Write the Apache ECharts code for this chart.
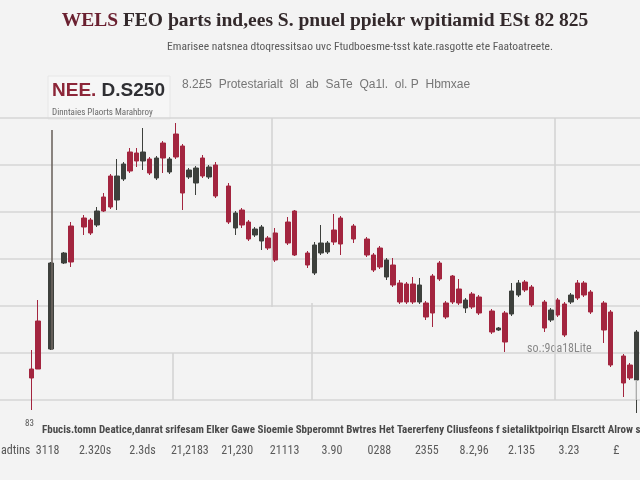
<!DOCTYPE html>
<html><head><meta charset="utf-8">
<script src="https://cdn.jsdelivr.net/npm/echarts/dist/echarts.min.js"></script>
<style>html,body{margin:0;padding:0;background:#f3f3f3}#c{width:640px;height:480px}</style>
</head><body><div id="c"></div>
<script>
// ---- data ----
const titleLead = 'WELS';
const titleRest = ' FEO þarts ind,ees S. pnuel ppiekr wpitiamid ESt 82 825';
const subtitle = 'Emarisee natsnea dtoqressitsao uvc Ftudboesme-tsst kate.rasgotte ete Faatoatreete.';
const tickerLead = 'NEE.';
const tickerRest = ' D.S250';
const tickerNote = 'Dinntaies Plaorts Marahbroy';
const headerInfo = '8.2£5  Protestarialt  8l  ab  SaTe  Qa1l.  ol. P  Hbmxae';
const annotation = 'so.:9oa18Lite';
const axisWords = ['Fbucis.tomn','Deatice,danrat','srifesam','Elker','Gawe','Sioemie','Sbperomnt','Bwtres','Het','Taererfeny','Cliusfeons','f','sietaliktpoiriqn','Elsarctt','Alrow','sa'];
const valueTicks = ['3118','2.320s','2.3ds','21,2183','21,230','21113','3.90','0288','2355','8.2,96','2.135','3.23','£'];
const rowName = 'adtins';
const cornerTick = '83';
// each candle: [open, close, low, high]; null = no trading slot
const candles = [
 [31,22,-10,50],[79,31,31,100],null,[51,137,50,138],null,[137,147,136,148],[174,138,133,178],null,
 [182,173,165,185],[180,167,165,182],[175,189,173,193],[203,189,188,207],[224,193,191,226],[200,224,190,241],
 [221,236,219,238],[248,229,227,252],[247,239,233,252],[239,248,230,272],[241,227,225,243],[222,242,220,244],
 [257,242,227,259],[228,241,226,243],[266,243,241,277],[254,207,190,256],[223,230,221,232],[217,232,205,234],
 [242,224,222,245],[223,233,221,235],[235,204,202,238],null,[214,178,176,217],[172,187,165,189],[190,175,172,192],
 [178,161,159,180],[165,171,163,173],[159,173,150,175],[162,152,150,164],[167,140,138,172],null,[178,157,155,183],
 [189,145,144,190],null,[147,135,132,149],[127,155,125,158],[147,157,145,175],[148,157,146,159],[170,158,155,186],
 [182,156,145,184],null,[174,161,157,176],null,[161,145,143,163],[145,130,128,147],[152,133,131,154],[123,140,120,142],
 [135,115,113,142],[117,98,96,120],[116,98,96,118],[116,98,96,123],[98,115,96,122],[97,83,80,99],[124,87,73,126],
 [137,121,119,139],[97,83,81,99],[124,98,96,125],[111,97,95,121],[92,100,87,102],[106,93,91,108],[103,87,85,105],
 null,[89,68,66,91],[70,72,69,73],[87,58,48,89],[86,109,84,117],[105,117,103,120],[118,110,108,120],[113,95,93,115],
 null,[98,72,68,100],[80,90,78,92],[100,85,83,102],[96,65,63,98],[98,105,96,107],[117,102,100,120],[117,105,103,119],
 [108,88,86,110],null,[97,70,57,99],[88,35,33,90],null,[44,17,3,46],[35,22,20,37],[20,68,-13,70]
];
const slots = candles.map((_, i) => 'D' + (i + 1));
// reference guides on the background panel: [x, yFrom, yTo]
const mainGuide = [52, 50, 270];
const lightGuides = [[173,47,0],[272,282,93],[312,97,0],[555,282,0],[636,20,0]];

// ---- styles ----
const UP = '#3d403c', DOWN = '#a3253f';
const narrow = '"Liberation Sans Narrow","Roboto Condensed","Liberation Sans",sans-serif';

const chart = echarts.init(document.getElementById('c'));
const guideData = [
  [{coord:[mainGuide[0], mainGuide[1]], lineStyle:{color:'#6e6661', width:1.6, type:'solid'}}, {coord:[mainGuide[0], mainGuide[2]]}]
].concat(lightGuides.map(g => [{coord:[g[0], g[1]], lineStyle:{color:'#d2d2d2', width:1.5, type:'solid'}}, {coord:[g[0], g[2]]}]));

chart.setOption({
  backgroundColor: '#f3f3f3',
  animation: false,
  grid: [
    {left: 28, right: 0, top: 118, height: 282},
    {left: 0, right: 0, top: 118, height: 282},
    {left: 24, width: 640, top: 400, height: 40}
  ],
  xAxis: [
    {type:'category', gridIndex:0, data: slots, boundaryGap:true, show:false},
    {type:'value', gridIndex:1, min:0, max:640, show:false},
    {type:'category', gridIndex:2, data: valueTicks, axisLine:{show:false}, axisTick:{show:false},
     axisLabel:{color:'#5a5a5a', fontSize:12, fontFamily:narrow, margin:5, interval:0}}
  ],
  yAxis: [
    {type:'value', gridIndex:0, min:0, max:282, show:false},
    {type:'value', gridIndex:1, min:0, max:282, interval:47, axisLabel:{show:false}, axisLine:{show:false}, axisTick:{show:false},
     splitLine:{show:true, lineStyle:{color:'#d6d6d6', width:1.5}}},
    {type:'value', gridIndex:2, show:false}
  ],
  series: [
    {type:'line', xAxisIndex:1, yAxisIndex:1, data:[], silent:true, clip:false, z:1,
     markLine:{silent:true, symbol:['none','none'], label:{show:false}, animation:false, data: guideData}},
    {type:'candlestick', xAxisIndex:0, yAxisIndex:0, clip:false, barWidth:5, z:3,
     data: candles.map(c => c === null ? '-' : c),
     itemStyle:{color:UP, color0:DOWN, borderColor:UP, borderColor0:DOWN, borderWidth:1}}
  ],
  graphic: [
    {type:'text', x:325, y:21, style:{text:'{a|' + titleLead + '}{b|' + titleRest + '}', align:'center', verticalAlign:'middle',
      rich:{a:{fill:'#6a2030', font:'bold 19.5px "Liberation Serif", serif'}, b:{fill:'#33292b', font:'bold 19.5px "Liberation Serif", serif'}}}},
    {type:'text', x:360, y:47, style:{text:subtitle, align:'center', verticalAlign:'middle', fill:'#5a5a5a', font:'11.5px ' + narrow}},
    {type:'rect', shape:{x:48, y:76, width:122, height:43}, style:{fill:'#f6f6f6', stroke:'#e6e6e6', lineWidth:1}, z:-1},
    {type:'text', x:52, y:91, style:{text:'{n|' + tickerLead + '}{d|' + tickerRest + '}', verticalAlign:'middle',
      rich:{n:{fill:'#8c2638', font:'bold 19px "Liberation Sans", sans-serif'}, d:{fill:'#2f2f33', font:'bold 19px "Liberation Sans", sans-serif'}}}},
    {type:'text', x:52, y:113, style:{text:tickerNote, verticalAlign:'middle', fill:'#6a6a6a', font:'9px ' + narrow}},
    {type:'text', x:182, y:85, style:{text:headerInfo, verticalAlign:'middle', fill:'#767676', font:'12px "Liberation Sans", sans-serif'}},
    {type:'text', x:527, y:349, style:{text:annotation, verticalAlign:'middle', fill:'#888', font:'12px ' + narrow}},
    {type:'text', x:25, y:424, style:{text:cornerTick, verticalAlign:'middle', fill:'#555', font:'9px ' + narrow}},
    {type:'text', x:42, y:430, style:{text:axisWords.join(' '), verticalAlign:'middle', fill:'#4a4a4a', font:'bold 11px ' + narrow}},
    {type:'text', x:1, y:451, style:{text:rowName, verticalAlign:'middle', fill:'#555', font:'12px ' + narrow}}
  ]
});
</script></body></html>
